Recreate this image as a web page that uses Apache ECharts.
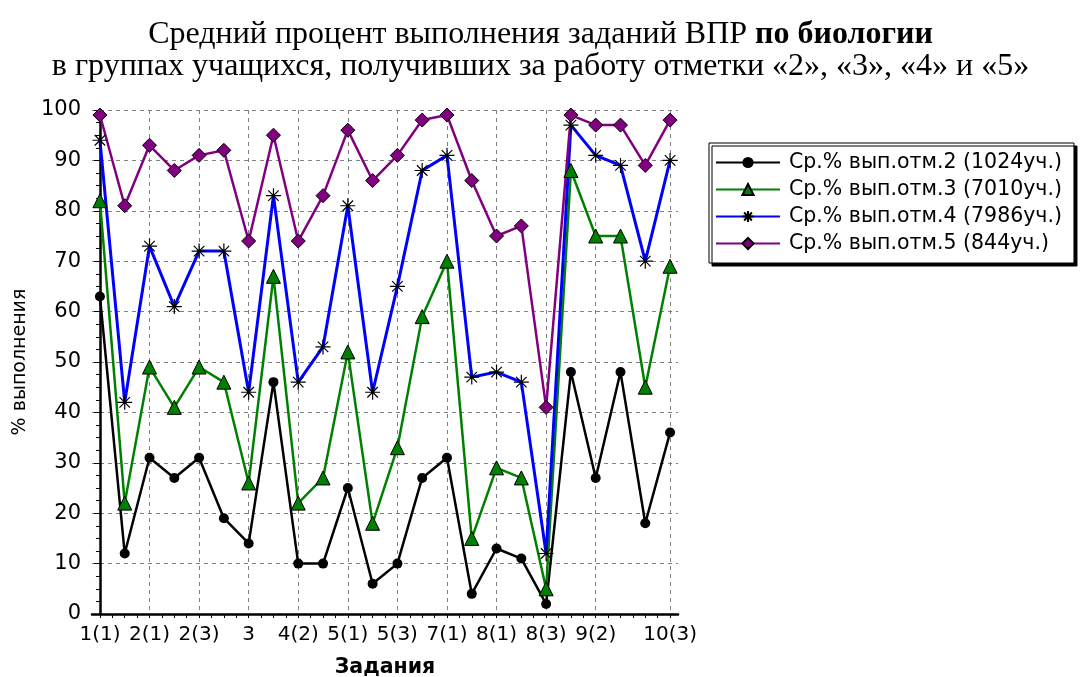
<!DOCTYPE html>
<html>
<head>
<meta charset="utf-8">
<script src="https://cdn.jsdelivr.net/npm/echarts@6/dist/echarts.min.js"></script>
<style>
html,body{margin:0;padding:0;background:#fff;}
#chart{width:1081px;height:677px;}
</style>
</head>
<body>
<div id="chart"></div>
<script>
// Categories (tasks)
const categories = ['1(1)','1(2)','2(1)','2(2)','2(3)','2(4)','3','4(1)','4(2)','4(3)','5(1)','5(2)','5(3)','6','7(1)','7(2)','8(1)','8(2)','8(3)','9(1)','9(2)','9(3)','10(2)','10(3)'];
// indices of categories whose labels are shown
const labeledIdx = [0,2,4,6,8,10,12,14,16,18,20,23];

const seriesNames = ['Ср.% вып.отм.2 (1024уч.)','Ср.% вып.отм.3 (7010уч.)','Ср.% вып.отм.4 (7986уч.)','Ср.% вып.отм.5 (844уч.)'];

const otm2 = [63,12,31,27,31,19,14,46,10,10,25,6,10,27,31,4,13,11,2,48,27,48,18,36];
const otm3 = [82,22,49,41,49,46,26,67,22,27,52,18,33,59,70,15,29,27,5,88,75,75,45,69];
const otm4 = [94,42,73,61,72,72,44,83,46,53,81,44,65,88,91,47,48,46,12,97,91,89,70,90];
const otm5 = [99,81,93,88,91,92,74,95,74,83,96,86,91,98,99,86,75,77,41,99,97,97,89,98];

const toPairs = arr => arr.map((v, i) => [i, v]);
const halfTicks = [];
for (let i = 0; i < categories.length * 2 - 1; i++) halfTicks.push(i / 2);

const asterisk = 'path://M0,5L10,5M5,0L5,10M1.5,1.5L8.5,8.5M8.5,1.5L1.5,8.5';
const sans = 'DejaVu Sans';

const chart = echarts.init(document.getElementById('chart'));
chart.setOption({
  animation: false,
  backgroundColor: '#fff',
  title: {
    left: 'center',
    top: 14,
    text: '{n|Средний процент выполнения заданий ВПР }{b|по биологии}\n{n|в группах учащихся, получивших за работу отметки «2», «3», «4» и «5»}',
    textStyle: {
      fontFamily: 'Liberation Serif', fontSize: 32, fontWeight: 'normal', color: '#000', lineHeight: 32,
      rich: {
        n: {fontFamily: 'Liberation Serif', fontSize: 32, fontWeight: 'normal', color: '#000', lineHeight: 32},
        b: {fontFamily: 'Liberation Serif', fontSize: 32, fontWeight: 'bold', color: '#000', lineHeight: 32}
      }
    }
  },
  legend: {
    orient: 'vertical',
    left: 709,
    top: 143,
    padding: [9, 12, 9, 6],
    itemGap: 6,
    itemWidth: 64,
    itemHeight: 14,
    backgroundColor: '#fff',
    borderColor: '#000',
    borderWidth: 1,
    shadowColor: '#000',
    shadowBlur: 0,
    shadowOffsetX: 3,
    shadowOffsetY: 3,
    textStyle: {fontFamily: sans, fontSize: 20.5, color: '#000', padding: [0,0,0,4]},
    data: seriesNames
  },
  grid: {left: 92, right: 403, top: 110, bottom: 63, containLabel: false, outerBoundsMode: 'none'},
  xAxis: [{
    type: 'value',
    min: -0.32,
    max: 23.32,
    name: 'Задания',
    nameLocation: 'middle',
    nameGap: 43,
    nameTextStyle: {fontFamily: sans, fontSize: 20.5, fontWeight: 'bold', color: '#000'},
    axisLine: {onZero: false, lineStyle: {color: '#000', width: 2.5}},
    axisTick: {show: false, customValues: labeledIdx},
    axisLabel: {
      customValues: labeledIdx,
      margin: 11,
      fontFamily: sans, fontSize: 20, color: '#000',
      formatter: v => categories[Math.round(v)]
    },
    splitLine: {show: true, lineStyle: {color: '#808080', type: [4, 4], width: 1}}
  }, {
    type: 'value',
    min: -0.32,
    max: 23.32,
    position: 'bottom',
    axisLine: {show: false},
    axisTick: {show: true, customValues: halfTicks, length: 4, lineStyle: {color: '#000', width: 1}},
    axisLabel: {show: false},
    splitLine: {show: false}
  }],
  yAxis: {
    type: 'value',
    min: 0,
    max: 100,
    interval: 10,
    name: '% выполнения',
    nameLocation: 'middle',
    nameGap: 62,
    nameTextStyle: {fontFamily: sans, fontSize: 19, color: '#000'},
    axisLine: {show: true, lineStyle: {color: '#000', width: 2.5}},
    axisTick: {show: true, length: 6, lineStyle: {color: '#000', width: 1}},
    minorTick: {show: true, splitNumber: 4, length: 4, lineStyle: {color: '#000', width: 1}},
    axisLabel: {margin: 11, fontFamily: sans, fontSize: 21, color: '#000'},
    splitLine: {show: true, lineStyle: {color: '#808080', type: [4, 4], width: 1}}
  },
  series: [
    {
      name: seriesNames[0], type: 'line', data: toPairs(otm2),
      symbol: 'circle', symbolSize: 10,
      lineStyle: {color: '#000', width: 2.5},
      itemStyle: {color: '#000', borderColor: '#000', borderWidth: 0}
    },
    {
      name: seriesNames[1], type: 'line', data: toPairs(otm3),
      symbol: 'triangle', symbolSize: 14,
      lineStyle: {color: '#008000', width: 2.5},
      itemStyle: {color: '#008000', borderColor: '#000', borderWidth: 1}
    },
    {
      name: seriesNames[2], type: 'line', data: toPairs(otm4),
      symbol: asterisk, symbolSize: 15,
      lineStyle: {color: '#0000ff', width: 3},
      itemStyle: {color: '#000', borderColor: '#000', borderWidth: 1.2}
    },
    {
      name: seriesNames[3], type: 'line', data: toPairs(otm5),
      symbol: 'diamond', symbolSize: 14,
      lineStyle: {color: '#800080', width: 2.5},
      itemStyle: {color: '#800080', borderColor: '#000', borderWidth: 1}
    }
  ]
});
</script>
</body>
</html>
